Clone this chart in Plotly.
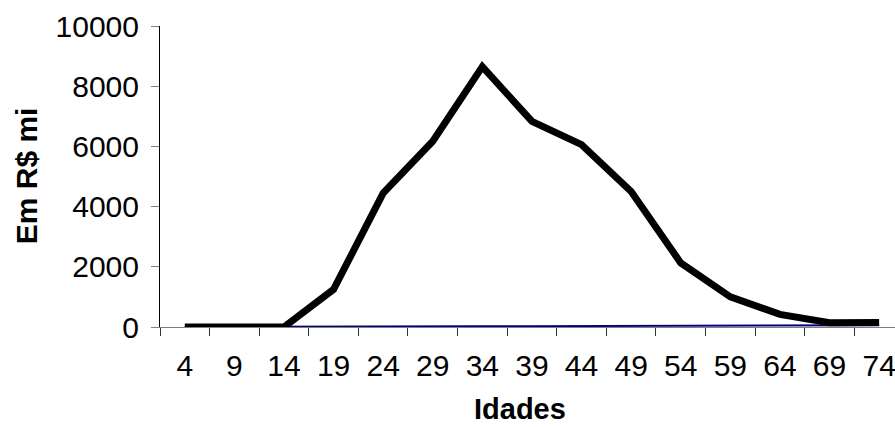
import plotly.graph_objects as go

idades = ["4", "9", "14", "19", "24", "29", "34", "39", "44", "49", "54", "59", "64", "69", "74"]
serie_preta = [0, 0, 0, 1250, 4450, 6170, 8650, 6830, 6060, 4500, 2130, 1000, 420, 140, 150]
serie_azul = [0, 0, 2, 6, 12, 18, 22, 28, 33, 38, 42, 46, 50, 55, 62]
y_ticks = [0, 2000, 4000, 6000, 8000, 10000]
y_tick_labels = ["0", "2000", "4000", "6000", "8000", "10000"]

FONT = "Liberation Sans, Arial, sans-serif"
FS = 30

fig = go.Figure()
fig.add_trace(go.Scatter(x=idades, y=serie_azul, mode="lines",
                         line=dict(color="#000080", width=2), showlegend=False))
fig.add_trace(go.Scatter(x=idades, y=serie_preta, mode="lines",
                         line=dict(color="#000000", width=7), showlegend=False))

fig.update_layout(
    width=895, height=427,
    margin=dict(l=160, r=0, t=26, b=100),
    paper_bgcolor="white", plot_bgcolor="white",
    font=dict(family=FONT, size=FS, color="#000000"),
    xaxis=dict(
        type="category", range=[-0.5, 14.32],
        tickson="boundaries", ticks="outside", ticklen=8, tickcolor="#333333",
        showline=True, linecolor="#7f7f7f", linewidth=1,
        showgrid=False, zeroline=False,
        tickfont=dict(size=FS, family=FONT), ticklabelstandoff=12,
    ),
    yaxis=dict(
        range=[0, 10000], tickvals=y_ticks, ticktext=y_tick_labels,
        ticks="outside", ticklen=8, tickcolor="#7f7f7f",
        showline=True, linecolor="#000000", linewidth=1,
        showgrid=False, zeroline=False,
        tickfont=dict(size=FS, family=FONT), ticklabelstandoff=6,
    ),
    annotations=[
        dict(text="<b>Idades</b>", xref="paper", yref="paper",
             x=(520 - 160) / 735, y=-(427 - 326.7) / 301, xanchor="center", yanchor="bottom",
             showarrow=False, font=dict(size=29, family=FONT)),
        dict(text="<b>Em R$ mi</b>", xref="paper", yref="paper",
             x=(26 - 160) / 735, y=(326.7 - 176) / 301, xanchor="center", yanchor="middle",
             textangle=-90, showarrow=False, font=dict(size=FS, family=FONT)),
    ],
)

fig.write_html("out.html")
